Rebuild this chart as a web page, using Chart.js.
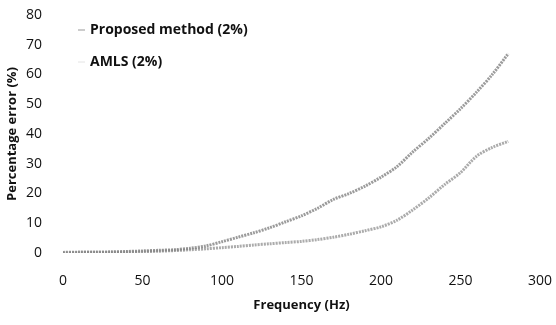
<!DOCTYPE html>
<html>
<head>
<meta charset="utf-8">
<script src="https://cdn.jsdelivr.net/npm/chart.js@4.4.0/dist/chart.umd.min.js"></script>
<style>
  html, body { margin: 0; padding: 0; background: #fff; }
  #wrap { width: 556px; height: 325px; position: relative; }
</style>
</head>
<body>
<div id="wrap"><canvas id="chart"></canvas></div>
<script>
// frecuencias (Hz)
const frecuencias = [0, 10, 20, 30, 40, 50, 60, 70, 80, 90, 100, 110, 120, 130, 140,
  150, 160, 170, 180, 190, 200, 210, 220, 230, 240, 250, 260, 270, 280];

// error porcentual
const propuesto = [0.2, 0.3, 0.3, 0.4, 0.5, 0.7, 0.9, 1.1, 1.6, 2.4, 3.8, 5.3, 6.8, 8.5, 10.5,
  12.5, 15, 18, 20, 22.5, 25.5, 29, 34, 38.5, 43.5, 48.5, 54, 60, 67];
const amls = [0, 0.1, 0.2, 0.2, 0.3, 0.4, 0.6, 0.8, 1.1, 1.4, 1.8, 2.2, 2.7, 3.1, 3.5,
  3.9, 4.5, 5.3, 6.3, 7.5, 8.8, 11, 14.5, 18.5, 23, 27, 32.5, 35.5, 37.5];

const etiquetas = ["Proposed method (2%)", "AMLS (2%)"];
const ticksY = [0, 10, 20, 30, 40, 50, 60, 70, 80];
const ticksX = [0, 50, 100, 150, 200, 250, 300];

const fuente = "'Open Sans', 'DejaVu Sans', sans-serif";

// leyenda dentro del area del grafico
const leyendaPlugin = {
  id: "leyendaInterna",
  afterDraw(chart) {
    const ctx = chart.ctx;
    const a = chart.chartArea;
    ctx.save();
    ctx.font = "bold 14px " + fuente;
    ctx.fillStyle = "#111";
    ctx.textBaseline = "middle";
    const filas = [a.top + 15, a.top + 47];
    chart.data.datasets.forEach((ds, i) => {
      ctx.strokeStyle = i === 0 ? "#999" : "#e4e4e4";
      ctx.lineWidth = 1;
      ctx.beginPath();
      ctx.moveTo(a.left + 15, filas[i]);
      ctx.lineTo(a.left + 22, filas[i]);
      ctx.stroke();
      ctx.fillText(ds.label, a.left + 27, filas[i]);
    });
    ctx.restore();
  }
};

new Chart(document.getElementById("chart"), {
  type: "line",
  data: {
    datasets: [
      {
        label: etiquetas[0],
        data: frecuencias.map((f, i) => ({ x: f, y: propuesto[i] })),
        borderColor: "rgba(130,130,130,0.8)",
        borderWidth: 3,
        borderDash: [2, 1],
        pointRadius: 0,
        tension: 0.3
      },
      {
        label: etiquetas[1],
        data: frecuencias.map((f, i) => ({ x: f, y: amls[i] })),
        borderColor: "rgba(150,150,150,0.8)",
        borderWidth: 3,
        borderDash: [2, 1],
        pointRadius: 0,
        tension: 0.3
      }
    ]
  },
  options: {
    responsive: true,
    maintainAspectRatio: false,
    animation: false,
    layout: { padding: { left: 0, right: 16, top: 15, bottom: 8 } },
    plugins: { legend: { display: false }, tooltip: { enabled: false } },
    scales: {
      x: {
        type: "linear",
        min: 0,
        max: 300,
        afterBuildTicks: (s) => { s.ticks = ticksX.map(v => ({ value: v })); },
        afterFit: (s) => { s.height = 64; s.paddingRight = 0; s.paddingLeft = 0; },
        grid: { display: false },
        border: { display: false },
        ticks: { color: "#111", font: { family: fuente, size: 14 }, padding: 12 },
        title: {
          display: true,
          text: "Frequency (Hz)",
          color: "#111",
          font: { family: fuente, size: 13, weight: "bold" },
          padding: { top: 4 }
        }
      },
      y: {
        min: 0,
        max: 80,
        afterBuildTicks: (s) => { s.ticks = ticksY.map(v => ({ value: v })); },
        afterFit: (s) => { s.width = 63; s.paddingTop = 0; s.paddingBottom = 0; },
        grid: { display: false },
        border: { display: false },
        ticks: { color: "#111", font: { family: fuente, size: 14 }, padding: 13 },
        title: {
          display: true,
          text: "Percentage error (%)",
          color: "#111",
          font: { family: fuente, size: 13, weight: "bold" },
          padding: { bottom: 0 }
        }
      }
    }
  },
  plugins: [leyendaPlugin]
});
</script>
</body>
</html>
